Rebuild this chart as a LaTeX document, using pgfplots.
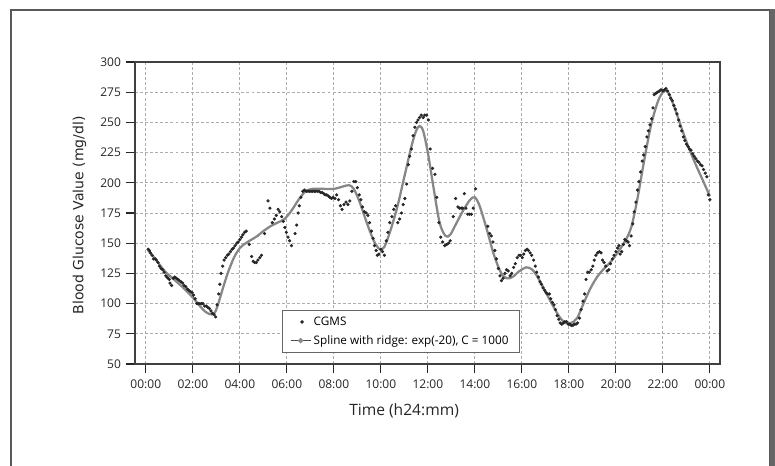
\documentclass[border=0pt]{standalone}
\usepackage{fontspec}
\setmainfont{Open Sans}
\newfontfamily\labfont{DejaVu Sans}
\usepackage{pgfplots}
\pgfplotsset{compat=1.18}

\begin{document}
\begin{tikzpicture}
\path[use as bounding box] (0pt,0pt) rectangle (581.25pt,348.75pt);
% frame round the figure
\draw[black!65, line width=1.1pt] (8.25pt,-2pt) -- (8.25pt,341.25pt) -- (577.5pt,341.25pt) -- (577.5pt,-2pt);
\fill[black!60] (577.5pt,-2pt) rectangle (581.25pt,341.8pt);

\begin{axis}[
    at={(101.25pt,75.75pt)}, anchor=south west,
    scale only axis, width=438.75pt, height=226.5pt,
    xmin=-0.46, xmax=24.43, ymin=50, ymax=300,
    xtick={0,2,...,24},
    xticklabels={00:00,02:00,04:00,06:00,08:00,10:00,12:00,14:00,16:00,18:00,20:00,22:00,00:00},
    ytick={50,75,...,300},
    /pgf/number format/assume math mode=true,
    tick label style={font=\fontsize{9}{10}\selectfont, text=black!85},
    xticklabel style={yshift=-1.3pt},
    yticklabel style={xshift=0pt},
    tick align=outside, major tick length=7pt,
    xtick pos=left, ytick pos=left,
    tick style={black!85, line width=0.9pt},
    grid=major,
    major grid style={gray!65, line width=0.6pt, dash pattern=on 2.2pt off 1.6pt},
    axis line style={black!75, line width=1.1pt},
    xlabel={Time (h24:mm)},
    xlabel style={font=\fontsize{11.7}{13}\selectfont, text=black!85, at={(axis description cs:0.46,-0.1556)}, anchor=center},
    ylabel={Blood Glucose Value (mg/dl)},
    ylabel style={font=\labfont\fontsize{10.5}{12}\selectfont, text=black!85, at={(axis description cs:-0.095,0.492)}, anchor=center},
    legend style={at={(axis description cs:0.251,0.036)}, anchor=south west,
        draw=black!60, line width=0.6pt, fill=white,
        font=\fontsize{8.8}{10}\selectfont, inner xsep=6pt, inner ysep=3pt, row sep=2pt},
    legend cell align=left,
]
\addplot[only marks, mark=*, mark size=1pt, black!85] coordinates {
(0.10,145)(0.15,144)(0.20,142)(0.27,140)(0.33,137)(0.40,137)(0.45,136)(0.52,134)(0.58,131)(0.65,129)
(0.72,128)(0.78,126)(0.85,123)(0.90,122)(0.95,121)(1.00,120)(1.03,117)(1.10,115)(1.17,121)(1.23,122)
(1.30,121)(1.37,120)(1.43,119)(1.50,118)(1.57,117)(1.63,115)(1.70,114)(1.77,112)(1.83,111)(1.90,110)
(1.97,109)(2.03,107)(2.10,104)(2.17,100)(2.23,100)(2.30,100)(2.37,100)(2.43,100)(2.50,98)(2.57,98)
(2.63,97)(2.70,96)(2.77,94)(2.83,92)(2.90,91)(2.97,89)
(3.03,99)(3.10,108)(3.15,116)(3.20,125)(3.27,131)(3.33,136)(3.40,138)(3.47,140)(3.53,141)(3.60,143)
(3.67,145)(3.73,146)(3.80,148)(3.87,150)(3.93,151)(4.00,153)(4.07,155)(4.13,157)(4.20,159)(4.27,160)
(4.40,149)(4.50,139)(4.57,135)(4.63,134)(4.70,134)(4.77,136)(4.85,138)(4.92,140)
(5.05,158)(5.20,185)(5.28,179)(5.38,167)(5.47,170)(5.55,173)(5.63,178)(5.70,176)(5.78,172)(5.85,168)
(5.92,163)(5.98,159)(6.05,155)(6.12,152)(6.20,148)(6.35,158)(6.42,165)(6.48,175)(6.53,181)(6.60,188)
(6.68,193)(6.75,194)(6.83,193)(6.90,193)(6.97,193)(7.03,193)(7.10,193)(7.17,193)(7.23,193)(7.30,193)
(7.37,193)(7.43,192)(7.50,192)(7.57,191)(7.63,190)(7.70,190)(7.77,189)(7.83,188)(7.90,187)
(7.97,188)(8.05,187)(8.12,190)(8.20,186)(8.28,181)(8.35,178)(8.43,182)(8.52,184)(8.60,182)(8.68,185)
(8.77,193)(8.85,201)(8.93,201)(9.00,196)(9.08,190)(9.15,186)(9.22,180)(9.30,176)(9.38,175)(9.45,173)
(9.52,167)(9.60,160)(9.67,154)(9.73,148)(9.80,144)(9.85,140)(9.92,141)(10.00,145)(10.07,143)(10.15,140)
(10.23,152)(10.30,159)(10.38,167)(10.47,172)(10.55,178)(10.63,181)(10.72,167)(10.80,170)(10.88,175)(10.95,182)
(11.02,187)(11.10,199)(11.17,215)(11.23,222)(11.30,228)(11.37,239)(11.45,246)(11.52,250)(11.58,252)(11.65,254)
(11.72,256)(11.80,254)(11.87,256)(11.95,256)(12.02,252)(12.10,228)(12.20,212)(12.30,207)(12.38,188)(12.47,167)
(12.55,155)(12.63,151)(12.72,148)(12.80,149)(12.88,150)(12.95,152)(13.08,172)(13.18,187)(13.28,180)(13.35,179)
(13.42,179)(13.48,179)(13.55,191)(13.62,179)(13.70,174)(13.77,174)(13.85,174)(13.93,179)(14.03,195)
(14.55,164)(14.63,158)(14.70,156)(14.77,151)(14.85,144)(14.92,137)(15.00,129)(15.07,123)(15.13,119)(15.20,121)
(15.28,125)(15.35,128)(15.42,127)(15.50,123)(15.57,125)(15.65,130)(15.72,133)(15.80,138)(15.88,140)(15.95,140)
(16.02,138)(16.08,141)(16.15,144)(16.22,145)(16.28,144)(16.35,142)(16.42,140)(16.50,136)(16.57,131)(16.63,126)
(16.70,122)(16.77,118)(16.83,116)(16.90,113)(16.97,111)(17.03,109)(17.10,108)(17.17,108)(17.23,104)(17.30,101)
(17.37,99)(17.43,95)(17.50,90)(17.57,87)(17.63,84)(17.70,83)(17.77,84)(17.83,85)(17.90,85)(17.97,83)
(18.03,83)(18.10,82)(18.17,82)(18.23,83)(18.30,83)(18.37,84)(18.45,88)(18.52,95)(18.60,102)(18.67,108)
(18.73,120)(18.80,126)(18.87,126)(18.95,128)(19.02,131)(19.08,136)(19.15,140)(19.22,142)(19.30,143)(19.37,142)
(19.43,136)(19.50,134)(19.57,131)(19.63,127)(19.70,128)(19.77,133)(19.85,137)(19.92,140)(20.00,143)(20.07,146)
(20.13,148)(20.18,141)(20.25,143)(20.32,149)(20.38,153)(20.45,152)(20.52,151)(20.58,148)(20.65,156)(20.72,166)
(20.78,176)(20.85,184)(20.92,194)(20.98,201)(21.05,209)(21.12,218)(21.18,223)(21.25,230)(21.32,238)(21.38,243)
(21.45,248)(21.52,253)(21.58,262)(21.63,273)(21.70,274)(21.77,275)(21.85,276)(21.92,277)(22.00,276)(22.07,277)
(22.13,278)(22.20,276)(22.27,273)(22.33,270)(22.40,268)(22.47,264)(22.53,261)(22.60,257)(22.67,252)(22.73,247)
(22.80,243)(22.87,238)(22.93,235)(23.00,232)(23.07,230)(23.13,228)(23.20,227)(23.27,224)(23.33,222)(23.40,220)
(23.47,218)(23.53,217)(23.60,215)(23.67,214)(23.73,211)(23.80,208)(23.87,205)(23.93,190)(24.00,186)
};
\addlegendentry{CGMS}

\addplot[color=black!47, line width=1.7pt, smooth,
    legend image code/.code={\draw[black!70, line width=0.6pt] (0pt,0pt) -- (15pt,0pt);
        \fill[black!45] (7.5pt,0pt) circle (0.9pt);}] coordinates {
(0.10,144)(0.40,137)(0.80,127)(1.20,120)(1.60,113)(2.00,105)(2.30,98)(2.55,93)(2.80,91)(2.95,93)
(3.10,101)(3.30,114)(3.50,126)(3.75,138)(4.00,146)(4.25,150)(4.50,153)(4.75,156)(5.00,160)(5.30,164)
(5.60,167)(5.90,170)(6.20,177)(6.50,186)(6.80,193)(7.10,195)(7.50,195)(8.00,195)(8.40,197)(8.65,198)
(8.85,195)(9.10,184)(9.40,167)(9.70,152)(9.95,145)(10.15,147)(10.40,160)(10.70,180)(11.00,205)(11.30,230)
(11.50,243)(11.65,247)(11.80,243)(12.00,225)(12.25,195)(12.50,167)(12.75,156)(12.95,157)(13.20,166)(13.50,177)
(13.80,186)(14.00,188)(14.20,181)(14.50,162)(14.80,141)(15.10,126)(15.35,121)(15.60,122)(15.90,127)(16.20,130)
(16.45,128)(16.70,121)(17.00,110)(17.30,99)(17.60,89)(17.85,84)(18.10,84)(18.35,88)(18.60,99)(18.90,112)
(19.20,122)(19.50,129)(19.80,135)(20.10,143)(20.40,152)(20.65,163)(20.90,185)(21.20,218)(21.50,248)(21.80,268)
(22.05,276)(22.25,274)(22.50,262)(22.80,245)(23.10,229)(23.40,215)(23.70,202)(24.00,189)
};
\addlegendentry{Spline with ridge: exp(-20), C = 1000}
\end{axis}
\end{tikzpicture}
\end{document}
